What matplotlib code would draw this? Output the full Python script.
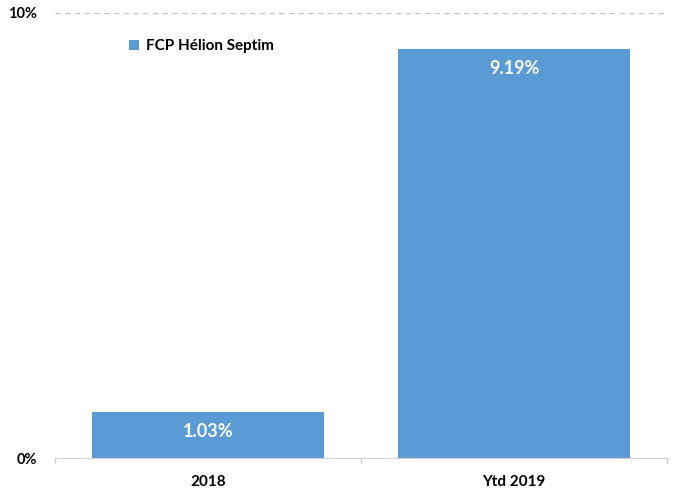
import matplotlib
matplotlib.use('Agg')
import matplotlib.pyplot as plt

categories = ['2018', 'Ytd 2019']
values = [1.03, 9.19]
series_name = 'FCP Hélion Septim'
yticks = [0, 10]
ytick_labels = ['0%', '10%']

plt.rcParams['font.family'] = ['Lato', 'DejaVu Sans']

fig = plt.figure(figsize=(6.76, 4.92), dpi=100)
ax = fig.add_axes([0.0814, 0.0691, 0.9053, 0.9045])

color = '#5B9BD5'
x = range(len(categories))
bars = ax.bar(x, values, width=0.758, color=color, label=series_name, zorder=2)

for b, v in zip(bars, values):
    ax.annotate(f'{v:.2f}%', (b.get_x() + b.get_width() / 2, v),
                xytext=(0, -14), textcoords='offset points',
                ha='center', va='center', color='white',
                fontsize=13, fontweight='bold')

ax.set_xlim(-0.5, len(categories) - 0.5)
ax.set_ylim(0, 10)
ax.set_yticks(yticks)
ax.set_yticklabels(ytick_labels, fontweight='bold', fontsize=10.5)
ax.set_xticks(list(x))
ax.set_xticklabels(categories, fontweight='bold', fontsize=11)

ax.axhline(10, color='#c8c8c8', lw=1, ls=(0, (4, 3)), zorder=1)
for s in ['top', 'right', 'left']:
    ax.spines[s].set_visible(False)
ax.spines['bottom'].set_color('#d0d0d0')

ax.tick_params(axis='y', length=0, pad=13)
ax.tick_params(axis='x', length=0, pad=12)
# separator ticks between categories
for xt in [-0.5, 0.5, 1.5]:
    ax.plot([xt, xt], [0, -0.12], color='#d0d0d0', lw=1, clip_on=False)

leg = ax.legend(loc='upper left', bbox_to_anchor=(0.098, 0.972), frameon=False,
                handlelength=0.7, handleheight=0.7,
                handletextpad=0.4, prop={'weight': 'bold', 'size': 11})

fig.savefig('out.png', dpi=100)
